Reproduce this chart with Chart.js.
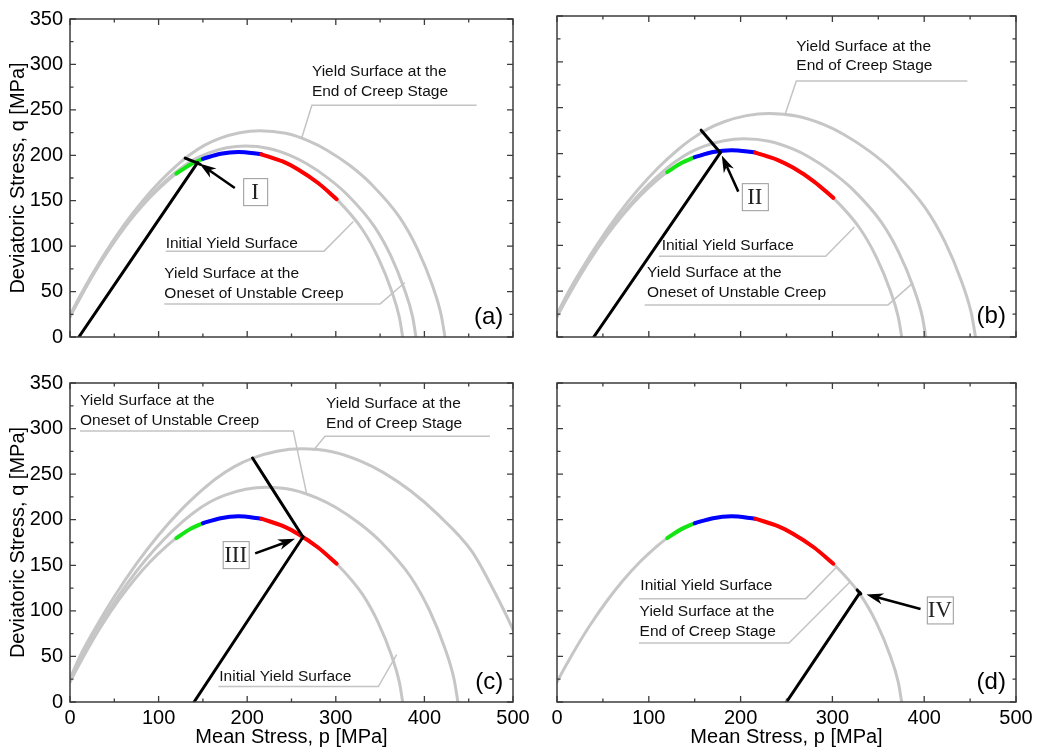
<!DOCTYPE html>
<html>
<head>
<meta charset="utf-8">
<script src="https://cdn.jsdelivr.net/npm/chart.js@4.4.1/dist/chart.umd.min.js"></script>
<style>
  body { margin: 0; background: #fff; width: 1037px; height: 754px; position: relative; overflow: hidden; }
  canvas { position: absolute; }
</style>
</head>
<body>
<canvas id="pa" width="540" height="360" style="left:0;top:0"></canvas>
<canvas id="pb" width="510" height="360" style="left:527px;top:0"></canvas>
<canvas id="pc" width="540" height="394" style="left:0;top:360px"></canvas>
<canvas id="pd" width="510" height="394" style="left:527px;top:360px"></canvas>
<script>
// initial yield surface (same in every panel)
const iysP = [0, 10, 21.8, 36.3, 54.5, 72.6, 90.8, 109, 120, 135, 150, 170, 190, 216, 240, 257, 280, 301, 330, 348, 362.7, 371.8, 375.5];
const iysQ = [22, 40.5, 61.2, 84.7, 111.1, 134.1, 154.1, 171, 179.8, 189.4, 196.1, 201.7, 203.7, 201.1, 193.2, 184.7, 169.5, 151.7, 118.3, 86.8, 51.5, 21.5, 0];

// coloured parts of the initial surface
const greenP = [120, 135, 150];
const greenQ = [179.8, 189.4, 196.1];
const blueP = [150, 170, 190, 216];
const blueQ = [196.1, 201.7, 203.7, 201.1];
const redP = [216, 240, 257, 280, 301];
const redQ = [201.1, 193.2, 184.7, 169.5, 151.7];

// (a)
const aOnsetP = [0, 10.4, 22.7, 37.8, 56.7, 75.5, 94.4, 113.4, 124.8, 140.4, 156, 176.8, 197.6, 224.6, 249.6, 267.3, 291.2, 313, 343.2, 362, 377.2, 386.7, 390.5];
const aOnsetQ = [23, 41.8, 63.2, 87.4, 114.7, 138.4, 159, 176.5, 185.6, 195.5, 202.4, 208.2, 210.2, 207.5, 199.4, 190.6, 174.9, 156.6, 122.1, 89.6, 53.1, 22.2, 0];
const aEndP = [0, 11.3, 24.6, 40.9, 61.4, 81.8, 102.3, 122.8, 135.2, 152.1, 169, 191.6, 214.1, 243.4, 270.5, 289.6, 315.6, 339.2, 371.9, 392.2, 408.8, 419, 423.2];
const aEndQ = [24, 45.2, 68.2, 94.4, 123.9, 149.5, 171.8, 190.7, 200.5, 211.2, 218.7, 224.9, 227.1, 224.2, 215.4, 205.9, 189, 169.1, 131.9, 96.8, 57.4, 24, 0];
const aPathP = [10, 144];
const aPathQ = [0, 192];
const aNormP = [130, 147];
const aNormQ = [197, 190];

// (b)
const bOnsetP = [0, 10.7, 23.3, 38.8, 58.3, 77.7, 97.2, 116.6, 128.4, 144.5, 160.5, 181.9, 203.3, 231.1, 256.8, 275, 299.6, 322.1, 353.1, 372.4, 388.1, 397.8, 401.8];
const bOnsetQ = [23, 43, 64.9, 89.9, 117.9, 142.3, 163.5, 181.4, 190.8, 201, 208.1, 214, 216.1, 213.4, 205, 196, 179.8, 161, 125.5, 92.1, 54.6, 22.8, 0];
const bEndP = [0, 12.1, 26.5, 44.1, 66.2, 88.1, 110.2, 132.3, 145.7, 163.9, 182.1, 206.4, 230.7, 262.2, 291.4, 312, 339.9, 365.4, 400.6, 422.5, 440.3, 451.4, 455.9];
const bEndQ = [25, 48.5, 73.3, 101.4, 133, 160.5, 184.5, 204.7, 215.2, 226.7, 234.7, 241.4, 243.8, 240.7, 231.3, 221.1, 202.9, 181.6, 141.6, 103.9, 61.6, 25.7, 0];
const bPathP = [40, 178];
const bPathQ = [0, 201];
const bNormP = [157, 178];
const bNormQ = [225.5, 201];

// (c)
const cOnsetP = [0, 11.7, 25.4, 42.3, 63.5, 84.7, 105.9, 127.1, 139.9, 157.4, 174.9, 198.2, 221.5, 251.9, 279.8, 299.7, 326.5, 351, 384.8, 405.8, 422.9, 433.5, 437.8];
const cOnsetQ = [24, 46.9, 70.8, 98, 128.5, 155.2, 178.3, 197.8, 208, 219.1, 226.9, 233.4, 235.7, 232.7, 223.5, 213.7, 196.1, 175.5, 136.9, 100.4, 59.6, 24.9, 0];
const cEndP = [0, 13.8, 30, 49.9, 74.9, 99.8, 124.9, 149.9, 165, 185.6, 206.3, 233.8, 261.3, 297, 330, 353.4, 385, 413.9, 453.8, 478.5, 498.7, 512, 521];
const cEndQ = [26, 55.2, 83.5, 115.5, 151.5, 182.9, 210.2, 233.2, 245.3, 258.3, 267.5, 275.1, 277.8, 274.3, 263.5, 251.9, 231.2, 206.9, 165, 122, 82, 50, 0];
const cPathP = [140, 263];
const cPathQ = [0, 181];
const cNormP = [206, 263];
const cNormQ = [267.7, 181];

// (d)
const dPathP = [250, 330];
const dPathQ = [0, 120];
const dNormP = [327, 331];
const dNormQ = [123, 118.5];

const xTicks = [0, 100, 200, 300, 400, 500];
const yTicks = [0, 50, 100, 150, 200, 250, 300, 350];

Chart.defaults.font.family = '"Liberation Sans", Arial, sans-serif';
Chart.defaults.color = '#000';

const GRAY = '#c6c6c6';

function pts(ps, qs) {
  return ps.map((p, i) => ({ x: p, y: qs[i] }));
}
function line(ps, qs, color, width) {
  return { data: pts(ps, qs), borderColor: color, borderWidth: width, pointRadius: 0, cubicInterpolationMode: 'monotone', fill: false, borderCapStyle: 'round' };
}

function arrow(ctx, x1, y1, x2, y2) {
  const a = Math.atan2(y2 - y1, x2 - x1), c = Math.cos(a), s = Math.sin(a);
  const len = 17, half = 5.5, notch = 12;
  ctx.lineWidth = 2.5;
  ctx.beginPath();
  ctx.moveTo(x1, y1);
  ctx.lineTo(x2 - notch * c, y2 - notch * s);
  ctx.stroke();
  ctx.beginPath();
  ctx.moveTo(x2, y2);
  ctx.lineTo(x2 - len * c + half * s, y2 - len * s - half * c);
  ctx.lineTo(x2 - notch * c, y2 - notch * s);
  ctx.lineTo(x2 - len * c - half * s, y2 - len * s + half * c);
  ctx.closePath();
  ctx.fill();
}

const decor = {
  id: 'decor',
  afterDraw(chart, args, o) {
    const { ctx, chartArea: ca, scales: { x, y } } = chart;
    const px = v => x.getPixelForValue(v), py = v => y.getPixelForValue(v);
    ctx.save();

    // labels with leader lines
    o.notes.forEach(n => {
      ctx.strokeStyle = '#c4c4c4';
      ctx.lineWidth = 1.5;
      ctx.beginPath();
      n.leader.forEach((pt, i) => i ? ctx.lineTo(px(pt[0]), py(pt[1])) : ctx.moveTo(px(pt[0]), py(pt[1])));
      ctx.stroke();
      ctx.fillStyle = '#111';
      ctx.font = '15.5px "Liberation Sans", Arial, sans-serif';
      ctx.textAlign = 'left';
      ctx.textBaseline = 'middle';
      n.lines.forEach(l => ctx.fillText(l[0], px(n.x), py(l[1])));
    });

    // arrow and numeral box
    ctx.strokeStyle = '#000';
    ctx.fillStyle = '#000';
    arrow(ctx, px(o.arrow[0]), py(o.arrow[1]), px(o.arrow[2]), py(o.arrow[3]));
    const bx = px(o.box.x), by = py(o.box.y), bw = o.box.w, bh = 27;
    ctx.fillStyle = '#fff';
    ctx.fillRect(bx - bw / 2, by - bh / 2, bw, bh);
    ctx.strokeStyle = '#999';
    ctx.lineWidth = 1;
    ctx.strokeRect(bx - bw / 2 + 0.5, by - bh / 2 + 0.5, bw, bh);
    ctx.fillStyle = '#222';
    ctx.font = '23px "Liberation Serif", "Times New Roman", serif';
    ctx.textAlign = 'center';
    ctx.textBaseline = 'middle';
    ctx.fillText(o.box.text, bx, by + 1);

    // panel letter
    ctx.fillStyle = '#000';
    ctx.font = '24px "Liberation Sans", Arial, sans-serif';
    ctx.textAlign = 'right';
    ctx.fillText(o.letter, px(489), py(22));

    // frame with inward ticks on all sides
    ctx.strokeStyle = '#3c3c3c';
    ctx.lineWidth = 1.5;
    ctx.strokeRect(ca.left, ca.top, ca.right - ca.left, ca.bottom - ca.top);
    ctx.lineWidth = 1.3;
    ctx.beginPath();
    for (let v = 0; v <= 500; v += 50) {
      const L = v % 100 === 0 ? 6 : 3.5, X = px(v);
      ctx.moveTo(X, ca.bottom); ctx.lineTo(X, ca.bottom - L);
      ctx.moveTo(X, ca.top); ctx.lineTo(X, ca.top + L);
    }
    for (let v = 0; v <= 350; v += 25) {
      const L = v % 50 === 0 ? 6 : 3.5, Y = py(v);
      ctx.moveTo(ca.left, Y); ctx.lineTo(ca.left + L, Y);
      ctx.moveTo(ca.right, Y); ctx.lineTo(ca.right - L, Y);
    }
    ctx.stroke();
    ctx.restore();
  }
};

function makePanel(id, datasets, o) {
  // Chart.js paints the first dataset on top, so list them top-first
  new Chart(document.getElementById(id), {
    type: 'line',
    data: { datasets: datasets.slice().reverse() },
    plugins: [decor],
    options: {
      responsive: false,
      animation: false,
      layout: { padding: { top: o.top, right: o.right, left: 0, bottom: 0 } },
      plugins: { legend: { display: false }, tooltip: { enabled: false }, decor: o },
      scales: {
        x: {
          type: 'linear', min: 0, max: 500,
          grid: { display: false, drawTicks: false }, border: { display: false },
          afterBuildTicks: s => { s.ticks = xTicks.map(v => ({ value: v })); },
          ticks: { display: o.showX, padding: 4, font: { size: 20 }, color: '#000' },
          title: { display: o.showX, text: 'Mean Stress, p [MPa]', font: { size: 20 }, color: '#000', padding: { top: 0, bottom: 5 } },
          afterFit: s => { s.height = o.xH; }
        },
        y: {
          type: 'linear', min: 0, max: 350,
          grid: { display: false, drawTicks: false }, border: { display: false },
          afterBuildTicks: s => { s.ticks = yTicks.map(v => ({ value: v })); },
          ticks: { display: o.showY, padding: 7, font: { size: 20 }, color: '#000' },
          title: { display: o.showY, text: 'Deviatoric Stress, q [MPa]', font: { size: 20 }, color: '#000', padding: { top: 6, bottom: 0 } },
          afterFit: s => { s.width = o.yW; }
        }
      }
    }
  });
}

function arcs() {
  return [line(greenP, greenQ, '#14e614', 4), line(blueP, blueQ, '#0000ff', 4), line(redP, redQ, '#ff0000', 4)];
}

makePanel('pa', [
  line(iysP, iysQ, GRAY, 3), line(aOnsetP, aOnsetQ, GRAY, 3), line(aEndP, aEndQ, GRAY, 3),
  ...arcs(),
  line(aPathP, aPathQ, '#000', 3), line(aNormP, aNormQ, '#000', 3)
], {
  top: 16, right: 27, xH: 23, yW: 70, showX: false, showY: true, letter: '(a)',
  arrow: [186, 164, 146, 191], box: { x: 209, y: 160, w: 24, text: 'I' },
  notes: [
    { x: 273, lines: [['Yield Surface at the', 291.5], ['End of Creep Stage', 269.7]], leader: [[459, 255], [273, 255], [261.5, 219]] },
    { x: 108, lines: [['Initial Yield Surface', 103]], leader: [[108, 94.5], [286.7, 94.5], [319.8, 127.2]] },
    { x: 106.5, lines: [['Yield Surface at the', 69.8], ['Oneset of Unstable Creep', 47.3]], leader: [[106.5, 36.4], [350, 36.4], [378, 60]] }
  ]
});

makePanel('pb', [
  line(iysP, iysQ, GRAY, 3), line(bOnsetP, bOnsetQ, GRAY, 3), line(bEndP, bEndQ, GRAY, 3),
  ...arcs(),
  line(bPathP, bPathQ, '#000', 3), line(bNormP, bNormQ, '#000', 3)
], {
  top: 16, right: 21, xH: 23, yW: 30, showX: false, showY: false, letter: '(b)',
  arrow: [197.5, 158.5, 179.5, 198], box: { x: 215.5, y: 153, w: 26, text: 'II' },
  notes: [
    { x: 260.7, lines: [['Yield Surface at the', 317], ['End of Creep Stage', 295.5]], leader: [[447, 279], [260.7, 279], [248.7, 243.5]] },
    { x: 114, lines: [['Initial Yield Surface', 100]], leader: [[111, 88], [292.7, 88], [324, 120]] },
    { x: 98, lines: [['Yield Surface at the', 69.8], ['Oneset of Unstable Creep', 48]], leader: [[95.5, 35], [360.6, 35], [387.8, 59]] }
  ]
});

makePanel('pc', [
  line(iysP, iysQ, GRAY, 3), line(cOnsetP, cOnsetQ, GRAY, 3), line(cEndP, cEndQ, GRAY, 3),
  ...arcs(),
  line(cPathP, cPathQ, '#000', 3), line(cNormP, cNormQ, '#000', 3)
], {
  top: 23, right: 27, xH: 52, yW: 70, showX: true, showY: true, letter: '(c)',
  arrow: [209, 163, 254, 179], box: { x: 187, y: 161.7, w: 26, text: 'III' },
  notes: [
    { x: 11.3, lines: [['Yield Surface at the', 331], ['Oneset of Unstable Creep', 309]], leader: [[11.3, 297.4], [252, 297.4], [267, 229]] },
    { x: 289, lines: [['Yield Surface at the', 327], ['End of Creep Stage', 305]], leader: [[474, 291.5], [287.8, 291.5], [274.6, 276]] },
    { x: 168.5, lines: [['Initial Yield Surface', 28]], leader: [[167.4, 17], [348, 17], [368.7, 52]] }
  ]
});

makePanel('pd', [
  line(iysP, iysQ, GRAY, 3),
  ...arcs(),
  line(dPathP, dPathQ, '#000', 3), line(dNormP, dNormQ, '#000', 3)
], {
  top: 23, right: 21, xH: 52, yW: 30, showX: true, showY: false, letter: '(d)',
  arrow: [396, 102, 337, 118], box: { x: 417, y: 101, w: 26, text: 'IV' },
  notes: [
    { x: 90.8, lines: [['Initial Yield Surface', 128]], leader: [[89.3, 113.4], [271, 113.4], [303.6, 147]] },
    { x: 90, lines: [['Yield Surface at the', 99.5], ['End of Creep Stage', 76.8]], leader: [[89.3, 64.8], [252.7, 64.8], [318.8, 131.4]] }
  ]
});
</script>
</body>
</html>
